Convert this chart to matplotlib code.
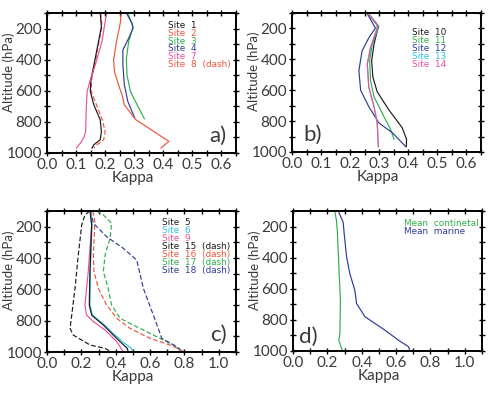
import numpy as np
import matplotlib
matplotlib.use('Agg')
import matplotlib.pyplot as plt
from matplotlib.ticker import MultipleLocator

plt.rcParams['font.family'] = ['Lato', 'DejaVu Sans']

### data (kappa vs pressure level, hPa)
# panel a
site1_k = [0.183, 0.187, 0.166, 0.151, 0.149, 0.161, 0.183, 0.187, 0.183, 0.161, 0.155]
site1_p = [100, 188, 391, 530, 605, 690, 786, 861, 915, 947, 968]
site8_k = [0.185, 0.189, 0.168, 0.153, 0.152, 0.170, 0.190, 0.200, 0.195, 0.172, 0.160]
site8_p = [100, 188, 391, 530, 605, 690, 786, 861, 915, 947, 968]
site7_k = [0.206, 0.200, 0.189, 0.166, 0.149, 0.138, 0.135, 0.133, 0.126, 0.115, 0.101]
site7_p = [100, 156, 284, 433, 530, 605, 711, 861, 904, 936, 968]
site2_k = [0.255, 0.252, 0.239, 0.229, 0.232, 0.246, 0.258, 0.266, 0.274, 0.305, 0.419, 0.392]
site2_p = [100, 166, 284, 401, 476, 562, 626, 690, 710, 785, 925, 968]
site4_k = [0.273, 0.292, 0.296, 0.281, 0.261, 0.261, 0.266, 0.278, 0.302]
site4_p = [100, 166, 198, 262, 337, 433, 562, 669, 776]
site3_k = [0.278, 0.296, 0.281, 0.273, 0.275, 0.287, 0.310, 0.335]
site3_p = [100, 188, 284, 391, 498, 605, 690, 780]

# panel b
site10_k = [0.262, 0.297, 0.282, 0.274, 0.278, 0.293, 0.333, 0.379, 0.394, 0.393]
site10_p = [105, 187, 303, 409, 515, 610, 727, 843, 918, 965]
site11_k = [0.264, 0.299, 0.276, 0.267, 0.270, 0.282, 0.310, 0.339, 0.351]
site11_p = [105, 187, 303, 409, 536, 642, 748, 854, 918]
site12_k = [0.259, 0.274, 0.287, 0.264, 0.241, 0.230, 0.236, 0.264, 0.299, 0.345, 0.391]
site12_p = [105, 155, 197, 261, 346, 473, 600, 706, 812, 875, 965]
site13_k = [0.262, 0.293, 0.293, 0.270, 0.259, 0.264, 0.282, 0.293, 0.297]
site13_p = [105, 176, 197, 325, 430, 579, 706, 812, 965]
site14_k = [0.262, 0.293, 0.293, 0.270, 0.259, 0.264, 0.282, 0.293, 0.297]
site14_p = [105, 176, 197, 325, 430, 579, 706, 812, 965]

# panel c
site5_k = [0.250, 0.260, 0.250, 0.246, 0.260, 0.279, 0.328, 0.376, 0.425, 0.467, 0.473]
site5_p = [100, 189, 487, 700, 764, 783, 828, 881, 934, 976, 1000]
site6_k = [0.255, 0.262, 0.252, 0.250, 0.264, 0.285, 0.335, 0.385, 0.440, 0.490, 0.502]
site6_p = [100, 189, 487, 700, 764, 783, 828, 881, 934, 976, 1000]
site9_k = [0.255, 0.260, 0.240, 0.221, 0.230, 0.270, 0.338, 0.406, 0.444]
site9_p = [100, 189, 487, 700, 764, 806, 860, 934, 1000]
site15_k = [0.248, 0.221, 0.202, 0.182, 0.163, 0.144, 0.134, 0.153, 0.250, 0.338, 0.376]
site15_p = [100, 125, 189, 381, 594, 764, 849, 892, 955, 977, 1000]
site16_k = [0.266, 0.279, 0.270, 0.273, 0.299, 0.347, 0.406, 0.483, 0.600, 0.716, 0.795]
site16_p = [100, 168, 381, 487, 594, 700, 785, 849, 913, 955, 996]
site17_k = [0.289, 0.328, 0.376, 0.367, 0.338, 0.328, 0.356, 0.376, 0.425, 0.502, 0.619, 0.735, 0.775]
site17_p = [100, 125, 178, 274, 381, 487, 594, 700, 785, 828, 892, 955, 980]
site18_k = [0.254, 0.270, 0.347, 0.444, 0.522, 0.561, 0.619, 0.668, 0.755, 0.775]
site18_p = [100, 178, 264, 338, 413, 594, 764, 913, 966, 990]

# panel d
cont_k = [0.243, 0.253, 0.259, 0.267, 0.276, 0.273, 0.267, 0.282, 0.292]
cont_p = [100, 162, 247, 460, 674, 887, 930, 983, 1000]
mar_k = [0.263, 0.292, 0.298, 0.312, 0.331, 0.360, 0.370, 0.419, 0.535, 0.613, 0.672, 0.681]
mar_p = [100, 172, 247, 396, 503, 610, 695, 780, 866, 930, 972, 1000]

### colours
blk = '#1a1a1a'
red = '#f0553a'
grn = '#2db04b'
blu = '#2e3a9a'
pnk = '#ee4f9c'
cyn = '#2bc4e8'
txtc = '#3a3a3a'

W, H = 489, 397
fig = plt.figure(figsize=(W / 100, H / 100), dpi=100)

def make_ax(l, r, t, b, xmax, xmajor, xminor, xlab):
    ax = fig.add_axes([l / W, 1 - b / H, (r - l) / W, (b - t) / H])
    ax.set_xlim(0, xmax)
    ax.set_ylim(1000, 100)
    ax.xaxis.set_minor_locator(MultipleLocator(xminor))
    ax.set_yticks([200, 400, 600, 800, 1000])
    ax.yaxis.set_minor_locator(MultipleLocator(100))
    ax.set_xticks(np.arange(0, xmax + 1e-6, xmajor))
    ax.set_xticklabels(xlab)
    ax.tick_params(which='both', direction='inout', top=True, right=True,
                   length=5, width=1.0, labelsize=11, labelcolor=txtc, pad=1)
    for s in ax.spines.values():
        s.set_linewidth(1.4)
    ax.set_xlabel('Kappa', fontsize=11, color=txtc, va='center')
    ax.xaxis.set_label_coords(0.455, -0.18)
    ax.set_ylabel('Altitude (hPa)', fontsize=9.5, color=txtc, va='center')
    ax.yaxis.set_label_coords(-0.205, 0.58)
    return ax

def legend(ax, x0, y0, dy, items):
    for i, (s, c) in enumerate(items):
        ax.text(x0, y0 - i * dy, s, color=c, fontsize=6.4, family='DejaVu Sans',
                transform=ax.transAxes, va='center', ha='left')

lw = 0.85
dsh = (0, (4, 2))

# a)
ax = make_ax(47, 236, 13, 153, 0.65, 0.1, 0.05,
             ['0.0', '0.1', '0.2', '0.3', '0.4', '0.5', '0.6'])
ax.plot(site8_k, site8_p, color=red, lw=lw, ls=dsh)
ax.plot(site1_k, site1_p, color=blk, lw=lw)
ax.plot(site7_k, site7_p, color=pnk, lw=lw)
ax.plot(site3_k, site3_p, color=grn, lw=lw)
ax.plot(site4_k, site4_p, color=blu, lw=lw)
ax.plot(site2_k, site2_p, color=red, lw=lw)
legend(ax, 0.64, 0.914, 0.057, [('Site  1', blk), ('Site  2', red), ('Site  3', grn),
                                 ('Site  4', blu), ('Site  7', pnk), ('Site  8  (dash)', red)])
ax.text(0.905, 0.12, 'a)', transform=ax.transAxes, fontsize=16, color=txtc,
        ha='center', va='center')

# b)
ax = make_ax(292, 481, 13, 152, 0.65, 0.1, 0.05,
             ['0.0', '0.1', '0.2', '0.3', '0.4', '0.5', '0.6'])
ax.plot(site10_k, site10_p, color=blk, lw=lw)
ax.plot(site11_k, site11_p, color=grn, lw=lw)
ax.plot(site12_k, site12_p, color=blu, lw=lw)
ax.plot(site13_k, site13_p, color=cyn, lw=lw)
ax.plot(site14_k, site14_p, color=pnk, lw=lw)
legend(ax, 0.635, 0.861, 0.057, [('Site  10', blk), ('Site  11', grn), ('Site  12', blu),
                                  ('Site  13', cyn), ('Site  14', pnk)])
ax.text(0.11, 0.12, 'b)', transform=ax.transAxes, fontsize=16, color=txtc,
        ha='center', va='center')

# c)
ax = make_ax(47, 236, 211, 352, 1.1, 0.2, 0.1,
             ['0.0', '0.2', '0.4', '0.6', '0.8', '1.0'])
ax.plot(site15_k, site15_p, color=blk, lw=lw, ls=dsh)
ax.plot(site16_k, site16_p, color=red, lw=lw, ls=dsh)
ax.plot(site17_k, site17_p, color=grn, lw=lw, ls=dsh)
ax.plot(site18_k, site18_p, color=blu, lw=lw, ls=dsh)
ax.plot(site9_k, site9_p, color=pnk, lw=lw)
ax.plot(site6_k, site6_p, color=cyn, lw=lw)
ax.plot(site5_k, site5_p, color=blk, lw=lw)
legend(ax, 0.608, 0.915, 0.056, [('Site  5', blk), ('Site  6', cyn), ('Site  9', pnk),
                                  ('Site  15  (dash)', blk), ('Site  16  (dash)', red),
                                  ('Site  17  (dash)', grn), ('Site  18  (dash)', blu)])
ax.text(0.905, 0.12, 'c)', transform=ax.transAxes, fontsize=16, color=txtc,
        ha='center', va='center')

# d)
ax = make_ax(293, 482, 211, 351, 1.1, 0.2, 0.1,
             ['0.0', '0.2', '0.4', '0.6', '0.8', '1.0'])
ax.plot(cont_k, cont_p, color=grn, lw=lw)
ax.plot(mar_k, mar_p, color=blu, lw=lw)
legend(ax, 0.585, 0.914, 0.057, [('Mean  continetal', grn), ('Mean  marine', blu)])
ax.text(0.08, 0.1, 'd)', transform=ax.transAxes, fontsize=16, color=txtc,
        ha='center', va='center')

plt.savefig('out.png', dpi=100)
